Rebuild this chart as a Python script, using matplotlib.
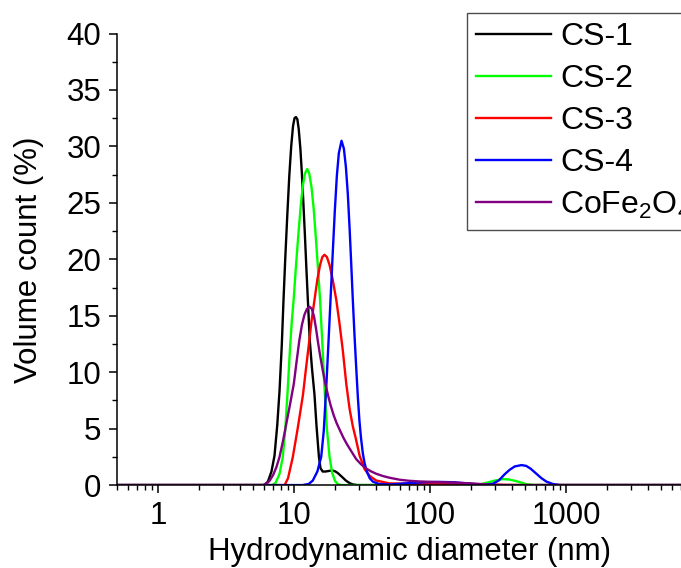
import matplotlib
matplotlib.use("Agg")
import matplotlib.pyplot as plt
from matplotlib.ticker import FixedLocator, FixedFormatter, LogLocator, MultipleLocator, NullFormatter

plt.rcParams['font.family'] = ['Liberation Sans', 'DejaVu Sans']
plt.rcParams['mathtext.fontset'] = 'custom'
plt.rcParams['mathtext.rm'] = 'Liberation Sans'
plt.rcParams['mathtext.it'] = 'Liberation Sans'

# values (diameter in nm, volume count in %)
cs1_d = [0.5, 6.0, 6.4, 6.8, 7.16, 7.5, 7.8, 8.1, 8.34, 8.6, 8.9, 9.2, 9.5, 9.8, 10.05, 10.3,
         10.55, 10.8, 11.1, 11.4, 11.7, 12.0, 12.3, 12.6, 13.0, 13.5, 14.1, 14.6, 15.2, 15.6,
         16.2, 17.0, 18.0, 19.0, 20.0, 21.0, 22.5, 24.0, 25.5, 27.0, 29.0, 10000]
cs1_v = [0, 0, 0.3, 1.2, 2.6, 5.3, 8.4, 12.4, 16.4, 20.2, 24.0, 27.4, 30.0, 31.8, 32.5, 32.6,
         32.4, 31.5, 29.8, 27.5, 24.8, 22.0, 19.1, 16.4, 12.9, 10.4, 8.0, 5.2, 2.5, 1.5,
         1.2, 1.2, 1.25, 1.3, 1.22, 1.05, 0.72, 0.4, 0.18, 0.06, 0, 0]

cs2_d = [0.5, 6.9, 7.3, 7.8, 8.24, 8.6, 8.97, 9.3, 9.6, 9.9, 10.3, 10.76, 11.2, 11.6, 12.0,
         12.47, 12.9, 13.4, 13.9, 14.35, 14.9, 15.5, 16.1, 16.7, 17.4, 18.2, 19.0, 20.0, 21.0,
         22.0, 200, 240, 270, 300, 344, 380, 420, 460, 510, 580, 10000]
cs2_v = [0, 0, 0.2, 1.0, 2.5, 5.0, 8.6, 12.0, 14.5, 16.4, 19.4, 22.4, 24.9, 26.6, 27.6,
         28.0, 27.6, 26.4, 24.5, 22.3, 19.5, 16.4, 12.6, 8.6, 5.0, 2.5, 1.1, 0.35, 0.08,
         0, 0, 0.1, 0.25, 0.4, 0.53, 0.5, 0.38, 0.25, 0.08, 0, 0]

cs3_d = [0.5, 8.5, 9.0, 9.77, 10.6, 11.6, 12.2, 12.8, 13.4, 14.1, 14.8, 15.5, 16.1, 16.7, 17.4,
         18.2, 19.2, 20.4, 21.5, 22.8, 24.2, 25.6, 27.0, 28.3, 30.3, 33.0, 36.0, 40.2, 50, 80,
         150, 250, 350, 450, 10000]
cs3_v = [0, 0, 0.6, 2.5, 5.0, 8.0, 10.3, 12.4, 14.5, 16.4, 18.2, 19.5, 20.2, 20.4, 20.2,
         19.5, 18.2, 16.4, 14.4, 11.9, 8.9, 6.7, 5.2, 4.2, 2.6, 1.4, 0.8, 0.4, 0.15, 0.1,
         0.1, 0.08, 0.02, 0, 0]

cs4_d = [0.5, 11.5, 12.8, 13.7, 14.8, 15.8, 16.5, 17.2, 17.8, 18.5, 19.2, 19.9, 20.6, 21.3,
         22.3, 23.2, 24.0, 24.8, 25.6, 26.3, 27.0, 27.8, 28.6, 29.4, 30.2, 31.0, 32.0, 33.0,
         34.5, 36.0, 38.0, 42, 50, 66, 90, 117, 150, 206, 260, 290, 320, 355, 385, 420, 471,
         510, 550, 600, 662, 720, 800, 905, 10000]
cs4_v = [0, 0, 0.1, 0.4, 1.2, 2.5, 4.8, 8.6, 12.2, 16.4, 20.5, 24.3, 27.4, 29.4,
         30.5, 29.8, 28.2, 25.8, 22.6, 19.5, 16.4, 13.2, 10.4, 7.8, 5.7, 4.2, 2.8, 1.9,
         1.1, 0.6, 0.3, 0.1, 0.05, 0.15, 0.25, 0.28, 0.25, 0.1, 0.03, 0.12, 0.4, 0.97, 1.35,
         1.65, 1.77, 1.7, 1.45, 1.05, 0.6, 0.3, 0.1, 0, 0]

cfo_d = [0.5, 5.9, 6.3, 6.6, 7.0, 7.4, 7.8, 8.3, 8.8, 9.4, 9.94, 10.4, 10.9, 11.4, 11.9, 12.4,
         12.97, 13.5, 14.0, 14.5, 14.9, 15.5, 16.2, 17.0, 17.7, 18.5, 19.5, 20.5, 21.6, 23.0,
         24.5, 26.3, 28.6, 31.0, 34.0, 37.0, 40.2, 45, 50.3, 60, 70, 84, 110, 150, 200, 240,
         280, 10000]
cfo_v = [0, 0, 0.15, 0.4, 0.9, 1.6, 2.5, 4.0, 5.6, 7.4, 9.0, 10.9, 12.8, 14.2, 15.1, 15.6,
         15.8, 15.6, 14.9, 13.8, 12.8, 11.5, 10.2, 8.9, 8.0, 7.1, 6.2, 5.5, 4.9, 4.2,
         3.6, 3.0, 2.3, 1.85, 1.45, 1.2, 1.0, 0.8, 0.65, 0.47, 0.38, 0.32, 0.27, 0.22, 0.15, 0.08,
         0, 0]

labels = ['CS-1', 'CS-2', 'CS-3', 'CS-4', 'CoFe$_2$O$_4$']
colors = ['black', '#00ff00', '#ff0000', '#0000ff', '#800080']

fig = plt.figure(figsize=(6.81, 5.68), dpi=100)
# axes run past the right edge of the figure, as in the reference crop
ax = fig.add_axes([0.1725, 0.146, 0.858, 0.795])

series = [(cs1_d, cs1_v), (cs2_d, cs2_v), (cs3_d, cs3_v), (cs4_d, cs4_v), (cfo_d, cfo_v)]
for (d, v), lab, c in zip(series, labels, colors):
    ax.plot(d, v, color=c, lw=1.7, label=lab, solid_joinstyle='round')

ax.set_xscale('log')
ax.set_xlim(0.5, 10000)
ax.set_ylim(0, 40)
ax.xaxis.set_major_locator(FixedLocator([1, 10, 100, 1000]))
ax.xaxis.set_major_formatter(FixedFormatter(['1', '10', '100', '1000']))
ax.xaxis.set_minor_locator(LogLocator(base=10, subs=range(2, 10)))
ax.xaxis.set_minor_formatter(NullFormatter())
ax.yaxis.set_major_locator(MultipleLocator(5))
ax.yaxis.set_minor_locator(MultipleLocator(2.5))

ax.spines['top'].set_visible(False)
ax.spines['right'].set_visible(False)
for s in ['left', 'bottom']:
    ax.spines[s].set_linewidth(1.1)
ax.tick_params(which='major', direction='out', length=5.8, width=1.1, labelsize=22.5, pad=6)
ax.tick_params(which='minor', direction='out', length=3.3, width=1.0)

ax.set_xlabel('Hydrodynamic diameter (nm)', fontsize=22.5, labelpad=4)
ax.set_ylabel('Volume count (%)', fontsize=22.5, labelpad=16)

leg = fig.legend(loc='upper left', bbox_to_anchor=(466.7 / 681, 1 - 13.3 / 568),
                 fontsize=23, frameon=True, fancybox=False, handlelength=2.35,
                 handletextpad=0.3, borderpad=0.28, labelspacing=0.37, borderaxespad=0)
leg.get_frame().set_edgecolor('#222222')
leg.get_frame().set_linewidth(1.0)

fig.savefig('out.png', dpi=100)
